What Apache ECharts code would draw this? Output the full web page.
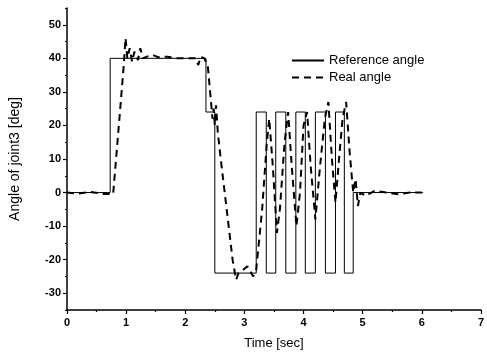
<!DOCTYPE html>
<html>
<head>
<meta charset="utf-8">
<script src="https://cdn.jsdelivr.net/npm/echarts@6/dist/echarts.min.js"></script>
<style>
html,body{margin:0;padding:0;background:#fff;}
#chart{width:487px;height:357px;}
</style>
</head>
<body>
<div id="chart"></div>
<script>
// Reference angle (step signal): [time sec, angle deg]
var refTime  = [0, 0.73, 0.73, 2.35, 2.35, 2.50, 2.50, 3.20, 3.20, 3.37, 3.37, 3.53, 3.53, 3.70, 3.70, 3.87, 3.87, 4.03, 4.03, 4.20, 4.20, 4.37, 4.37, 4.54, 4.54, 4.69, 4.69, 4.84, 4.84, 6.02];
var refAngle = [0, 0, 40, 40, 24, 24, -24, -24, 24, 24, -24, -24, 24, 24, -24, -24, 24, 24, -24, -24, 24, 24, -24, -24, 24, 24, -24, -24, 0, 0];

// Real angle (measured response): [time sec, angle deg]
var realTime  = [0, 0.2, 0.4, 0.6, 0.78, 0.82, 0.9, 0.96, 0.99, 1.02, 1.06, 1.1, 1.14, 1.2, 1.24, 1.28, 1.35, 1.45, 1.55, 1.7, 1.85, 2.0, 2.18, 2.22, 2.26, 2.32, 2.38, 2.42, 2.46, 2.48, 2.5, 2.52, 2.55, 2.6, 2.7, 2.8, 2.86, 2.9, 2.98, 3.05, 3.15, 3.2, 3.3, 3.38, 3.42, 3.48, 3.55, 3.6, 3.68, 3.74, 3.8, 3.88, 3.94, 4.0, 4.06, 4.12, 4.2, 4.28, 4.36, 4.42, 4.48, 4.54, 4.6, 4.66, 4.72, 4.78, 4.84, 4.88, 4.92, 4.96, 5.05, 5.2, 5.4, 5.6, 5.8, 6.0];
var realAngle = [0, -0.3, 0.2, -0.4, -0.5, 8, 25, 38, 46, 40, 43, 39, 42, 39.5, 43, 40, 40.5, 41, 40.3, 40.5, 40, 40, 40, 38, 40.5, 40, 38, 30, 22, 25, 20, 26, 18, 10, -5, -20, -26, -24, -23, -22, -25, -23, -5, 15, 22, 8, -12, -5, 15, 24, 8, -10, 0, 20, 24, 8, -8, 8, 22, 27, 10, -3, 10, 22, 27, 12, 0, 4, -4, 0, -1, 0.5, 0, -0.5, 0, 0];

// Axis ticks
var xTicks = [0, 1, 2, 3, 4, 5, 6, 7];
var yTicks = [-30, -20, -10, 0, 10, 20, 30, 40, 50];

function zip(a, b) { return a.map(function (v, i) { return [v, b[i]]; }); }

var chart = echarts.init(document.getElementById('chart'), null, {renderer: 'canvas'});
var font = 'Liberation Sans, Arial, sans-serif';
chart.setOption({
  animation: false,
  backgroundColor: '#fff',
  grid: {left: 67, right: 3, top: 8, bottom: 47},
  legend: {
    orient: 'vertical', left: 286, top: 49, itemWidth: 32, itemHeight: 10, itemGap: 4,
    textStyle: {fontFamily: font, fontSize: 13, color: '#000'},
    itemStyle: {opacity: 0},
    data: ['Reference angle', 'Real angle']
  },
  xAxis: {
    type: 'value', min: 0, max: 7, interval: 1,
    name: 'Time [sec]', nameLocation: 'middle', nameGap: 27,
    nameTextStyle: {fontFamily: font, fontSize: 13, color: '#000'},
    axisLine: {onZero: false, lineStyle: {color: '#000', width: 1.5}},
    axisTick: {show: true, inside: false, length: 4, lineStyle: {color: '#000', width: 1.2}},
    minorTick: {show: true, splitNumber: 2, length: 2, lineStyle: {color: '#000', width: 1.2}},
    axisLabel: {fontFamily: font, fontSize: 11, fontWeight: 'bold', color: '#000', margin: 7,
      customValues: xTicks},
    splitLine: {show: false}
  },
  yAxis: [{
    type: 'value', min: -35, max: 55, position: 'left',
    name: 'Angle of joint3 [deg]', nameLocation: 'middle', nameGap: 45,
    nameTextStyle: {fontFamily: font, fontSize: 14, color: '#000'},
    axisLine: {show: true, onZero: false, lineStyle: {color: '#000', width: 1.5}},
    axisTick: {show: true, inside: false, length: 4, customValues: yTicks, lineStyle: {color: '#000', width: 1.2}},
    axisLabel: {fontFamily: font, fontSize: 11, fontWeight: 'bold', color: '#000', margin: 6,
      customValues: yTicks},
    splitLine: {show: false}
  }, {
    type: 'value', min: -35, max: 55, interval: 5, position: 'left', offset: 0,
    axisLine: {show: false},
    axisTick: {show: true, inside: false, length: 2, lineStyle: {color: '#000', width: 1.2}},
    axisLabel: {show: false},
    splitLine: {show: false}
  }],
  series: [{
    name: 'Reference angle', type: 'line', yAxisIndex: 0,
    data: zip(refTime, refAngle), symbol: 'none',
    lineStyle: {color: '#000', width: 1}, itemStyle: {color: '#000'}
  }, {
    name: 'Real angle', type: 'line', yAxisIndex: 0,
    data: zip(realTime, realAngle), symbol: 'none',
    lineStyle: {color: '#000', width: 2, type: [7, 5]}, itemStyle: {color: '#000'}
  }]
});
</script>
</body>
</html>
